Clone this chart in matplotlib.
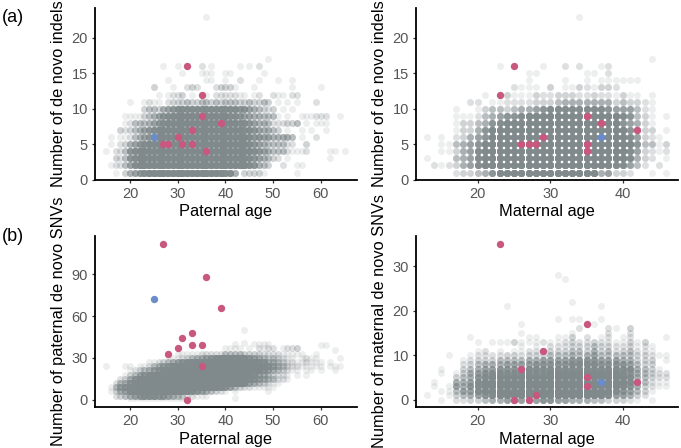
import matplotlib
matplotlib.use('Agg')
import matplotlib.pyplot as plt

plt.rcParams['font.family'] = ['Liberation Sans', 'DejaVu Sans']

# how many overplotted people a darkness level in the tables stands for
level_counts = [0, 1, 2, 3, 5, 7, 10, 14, 20, 30]

# paternal age vs indels, columns are ages 15-65
pat_indel_y = [23, 17, 16, 15, 14, 13, 12, 11, 10, 9, 8, 7, 6, 5, 4, 3, 2, 1]
pat_indel_rows = [
    "..... ..... ..... ..... .1...",
    "..... ..... ..... ..... ..... ..... ....1",
    "..... ..... ..1.. 1.... 2.1.. ...1. 1.2..",
    "..... ..... ..... .1... 111.. 11... ...1.",
    "..... ..... ...1. ..... .11.. 1..2. ..1.. .1..1",
    "..... ..... 3...1 ..232 ...23 331.. .1... ....1 ..... 1....",
    "..... ..... .1.12 23.1. .1.22 22211 .12.. 211.2 2....",
    "..... 1..12 11.23 33433 44343 44433 43343 .1.1. 1...2",
    "..... ...34 43567 88888 88888 88877 65432 3.1.1",
    "....1 11134 56789 99999 99999 98876 65544 41.1. .1112 22..1",
    "....1 24445 67899 99999 99999 99988 76554 22233 4.1.1 11...",
    "...32 34567 89999 99999 99999 99998 87655 43.1. .1.1. .1...",
    ".1.11 24567 89999 99999 99999 99999 87766 55554 .1..2",
    ".1.23 56789 99999 99999 99999 99999 87654 44422 ..3..",
    "1.224 78999 99999 99999 99999 99999 98765 44421 112.. ..11. 1",
    "..324 78999 99999 99999 99999 99999 87654 32.1. ..... ..1..",
    ".1224 68999 99999 99999 99999 99999 87543 ..2.. 11...",
    "..1.3 56789 99999 99999 99999 88503 3331. ..... 1....",
]

# maternal age vs indels, columns are ages 13-46
mat_indel_y = [23, 17, 16, 15, 14, 13, 12, 11, 10, 9, 8, 7, 6, 5, 4, 3, 2, 1]
mat_indel_rows = [
    ".. ..... ..... ..... ....1",
    ".. ..... ..... ..... ..... ..... ....1",
    ".. ..... ...1. ....1 ..2.2 ..12.",
    ".. ..... ..... ..11. ..... 11.2.",
    ".. ..... ..... ..1.. ..1.. 1.111 111..",
    ".. ..... ..... 2111. 3.113 21332",
    ".. ..... .1..3 11132 23332 23221 311.1",
    ".. ....2 2.112 22233 34555 55553 43321",
    ".. ..1.. 13443 45567 88888 88876 66421",
    ".. ..111 24567 78999 99999 99999 87431 .1",
    ".. ..133 45789 99999 99999 99999 76531",
    ".. ..133 57999 99999 99999 99999 97433 .1",
    "1. 1.235 67999 99999 99999 99999 98632 1.",
    ".. 11456 79999 99999 99999 99999 99744 13",
    ".. 11356 89999 99999 99999 99999 98632 12",
    "1. ..456 89999 99999 99999 99999 98532 .1",
    ".2 12356 89999 99999 99999 99998 8642. 2.",
    ".. ..233 45799 99999 99999 99563 32..1 .1",
]

# paternal age vs paternal SNVs (read in steps), columns are ages 15-66
pat_snv_y = [50, 41, 40, 39, 37, 36, 33, 30, 27, 24, 21, 18, 15, 12, 9, 6, 3, 1]
pat_snv_rows = [
    "..... ..... ..... ..... ..... ....1",
    "..... ..... ..... ..... ..... ....1",
    "..... ..... ..... ..... ..... ..1.. .1111",
    "..... ..... ..... ..... ..... ..... ..... ..... ..... 11...",
    "..... ..... ..... ..... ..... 1111. 1.212 2.122 3....",
    "..... ..... ..... ..... ..... ..... ..... ..... ..... ...1.",
    "..... ..... ..... 11111 22222 44443 33322 22111 11..1",
    "..... ..... ...11 12345 56789 99998 76543 43211 .1211 ....1",
    "..... ....1 12345 67899 99999 99999 99875 54322 11211 1.1..",
    "1...1 1.112 45678 99999 99999 99999 99997 65432 21111 1.111",
    "..... 12345 67899 99999 99999 99999 99976 54321 1.11. 1..1.",
    "....1 34678 99999 99999 99999 99999 98654 3221. 1.1..",
    "...23 57899 99999 99999 99999 99999 87654 4221.",
    "..245 78999 99999 99999 99999 99998 65432 11...",
    ".1467 89999 99999 99999 99998 76432 21111 1....",
    ".1356 89999 99999 99987 65432 1.1.. ....1",
    "..234 56788 87765 43221 11...",
    "..... 11111 11111 11... ..... ..1..",
]

# maternal age vs maternal SNVs, columns are ages 13-46
mat_snv_y = [28, 27, 22, 21, 18, 17, 16, 15, 14, 13, 12, 11, 10, 9, 8, 7, 6, 5, 4, 3, 2, 1, 0]
mat_snv_rows = [
    ".. ..... ..... ..... .1...",
    ".. ..... ..... ..... ..1..",
    ".. ..... ..... ..... ...1.",
    ".. ..... ....1 ..... ..... ..1..",
    ".. ..... ..... ..... .1.11 ..1..",
    ".. ..... ..... .1... ..... .1...",
    ".. ..... ..... ..... ....2 ...21 .3...",
    ".. ..... ..... .1... ...1. ...2. .2...",
    ".. ....1 ..... ..11. .113. 2.12. 12... .1",
    ".. ..... 1.111 31112 11232 23221 1313.",
    ".. ..... ..... .1.1. 22233 34332 23121",
    ".. ..... 12.1. 11222 33344 35342 34221",
    ".. .1..1 22223 32333 44454 56444 44332 11",
    ".. ...12 33344 44556 66677 77666 55333 .1",
    ".. ...23 45556 66677 77788 88777 76433",
    ".. 1..34 56677 77888 88888 88888 88543 1.",
    ".. 1.135 67888 88888 99999 99999 87543 22",
    ".. ..345 78999 99999 99999 99999 98543 22",
    ".1 ..556 89999 99999 99999 99999 98542 11",
    ".1 .1657 89999 99999 99999 99999 87532 11",
    ".. 11466 89999 99999 99999 99998 76431",
    "1. .1345 67899 99999 99999 99986 6532.",
    ".. 1.223 34556 66667 76655 54433 321.1",
]

# flagged samples
pat_indel_red_x = [27, 28, 30, 31, 32, 33, 33, 35, 35, 36, 39]
pat_indel_red_y = [5, 5, 6, 5, 16, 5, 7, 12, 9, 4, 8]
mat_indel_red_x = [23, 25, 26, 27, 28, 29, 35, 35, 35, 37, 42]
mat_indel_red_y = [12, 16, 5, 5, 5, 6, 9, 5, 4, 8, 7]
pat_snv_red_x = [27, 36, 39, 33, 31, 30, 33, 35, 28, 35, 32]
pat_snv_red_y = [112, 88, 66, 48, 44, 37, 39, 39, 33, 24, 0]
mat_snv_red_x = [23, 35, 29, 26, 35, 35, 42, 28, 25, 27]
mat_snv_red_y = [35, 17, 11, 7, 5, 3, 4, 1, 0, 0]
blue_pat_age = [25]
blue_mat_age = [37]

W, H = 681, 448
GREY = '#808a8c'
RED = '#c9587f'
BLUE = '#6a8ccb'


def make_ax(left, right, top, bottom):
    ax = fig.add_axes([left / W, 1 - bottom / H, (right - left) / W, (bottom - top) / H])
    ax.spines['top'].set_visible(False)
    ax.spines['right'].set_visible(False)
    ax.spines['left'].set_linewidth(1.3)
    ax.spines['bottom'].set_linewidth(1.3)
    ax.tick_params(length=2.5, width=0.9, labelsize=10.5, labelcolor='#555555', pad=2.5, color='#333333')
    return ax


def draw_table(ax, rows, ys, first_age):
    xs, vs = [], []
    for row, y in zip(rows, ys):
        for i, c in enumerate(row.replace(' ', '')):
            if c != '.':
                n = level_counts[int(c)]
                xs += [first_age + i] * n
                vs += [y] * n
    ax.scatter(xs, vs, s=25, color=GREY, alpha=0.14, linewidths=0, zorder=2)


def finish(ax, xlab, ylab, ylab_x, ylab_y):
    ax.set_xlabel(xlab, fontsize=11.8, labelpad=2.5)
    fig.text(ylab_x / W, 1 - ylab_y / H, ylab, fontsize=11.8, rotation=90, ha='center', va='center')


fig = plt.figure(figsize=(W / 100, H / 100), dpi=100, facecolor='w')

ax1 = make_ax(94.7, 357, 8, 180)
draw_table(ax1, pat_indel_rows, pat_indel_y, 15)
ax1.scatter(pat_indel_red_x, pat_indel_red_y, s=28, color=RED, linewidths=0, zorder=3)
ax1.scatter(blue_pat_age, [6], s=28, color=BLUE, linewidths=0, zorder=3)
ax1.set_xlim(12.6, 67.6)
ax1.set_ylim(-0.05, 24.2)
ax1.set_xticks([20, 30, 40, 50, 60])
ax1.set_yticks([0, 5, 10, 15, 20])
finish(ax1, 'Paternal age', 'Number of de novo indels', 59, 94)

ax2 = make_ax(415.7, 678, 8, 180)
draw_table(ax2, mat_indel_rows, mat_indel_y, 13)
ax2.scatter(mat_indel_red_x, mat_indel_red_y, s=28, color=RED, linewidths=0, zorder=3)
ax2.scatter(blue_mat_age, [6], s=28, color=BLUE, linewidths=0, zorder=3)
ax2.set_xlim(11.45, 47.6)
ax2.set_ylim(-0.05, 24.2)
ax2.set_xticks([20, 30, 40])
ax2.set_yticks([0, 5, 10, 15, 20])
finish(ax2, 'Maternal age', 'Number of de novo indels', 380, 94)

ax3 = make_ax(94.7, 357, 235.7, 407.3)
draw_table(ax3, pat_snv_rows, pat_snv_y, 15)
ax3.scatter(pat_snv_red_x, pat_snv_red_y, s=28, color=RED, linewidths=0, zorder=3)
ax3.scatter(blue_pat_age, [72], s=28, color=BLUE, linewidths=0, zorder=3)
ax3.set_xlim(12.6, 67.6)
ax3.set_ylim(-5.4, 117.7)
ax3.set_xticks([20, 30, 40, 50, 60])
ax3.set_yticks([0, 30, 60, 90])
finish(ax3, 'Paternal age', 'Number of paternal de novo SNVs', 59, 321)

ax4 = make_ax(415.7, 678, 235.7, 407.3)
draw_table(ax4, mat_snv_rows, mat_snv_y, 13)
ax4.scatter(mat_snv_red_x, mat_snv_red_y, s=28, color=RED, linewidths=0, zorder=3)
ax4.scatter(blue_mat_age, [4], s=28, color=BLUE, linewidths=0, zorder=3)
ax4.set_xlim(11.45, 47.6)
ax4.set_ylim(-1.7, 36.8)
ax4.set_xticks([20, 30, 40])
ax4.set_yticks([0, 10, 20, 30])
finish(ax4, 'Maternal age', 'Number of maternal de novo SNVs', 380, 321)

fig.text(2 / W, 1 - 17 / H, '(a)', fontsize=13, va='center')
fig.text(2 / W, 1 - 236 / H, '(b)', fontsize=13, va='center')

plt.savefig('out.png', dpi=100)
